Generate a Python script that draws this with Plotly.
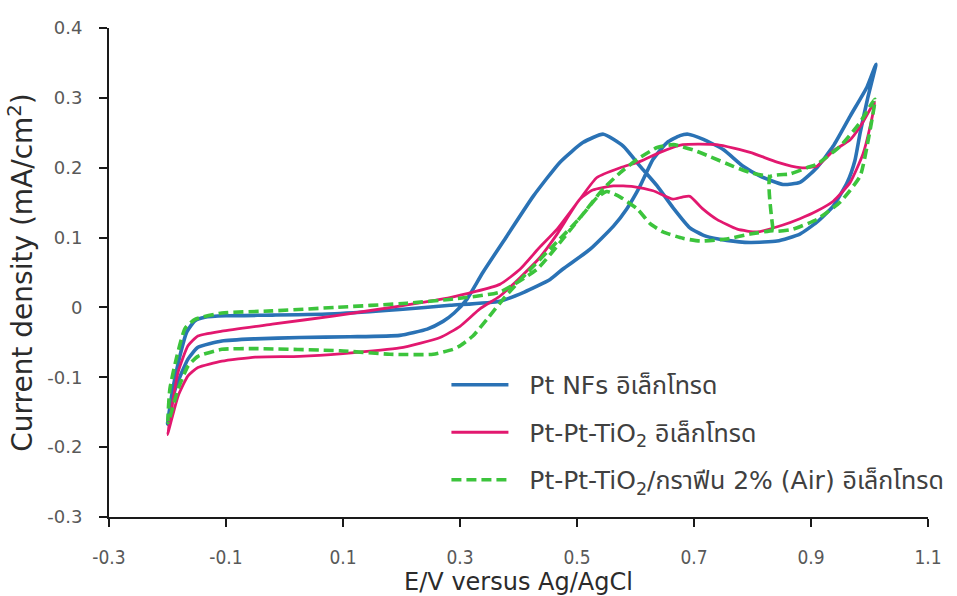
import plotly.graph_objects as go

# Cyclic voltammograms: potential E (V vs Ag/AgCl) and current density J (mA/cm2)
pt_nfs_E = [-0.200, -0.191, -0.179, -0.167, -0.153, -0.136, -0.100, -0.021, 0.086, 0.197,
            0.283, 0.368, 0.410, 0.454, 0.476, 0.522, 0.562, 0.585, 0.608, 0.630,
            0.654, 0.676, 0.690, 0.715, 0.750, 0.784, 0.813, 0.852, 0.881, 0.910,
            0.938, 0.967, 0.996, 1.011,
            0.997, 0.984, 0.975, 0.962, 0.938, 0.910, 0.881, 0.842, 0.796, 0.756,
            0.720, 0.693, 0.664, 0.637, 0.608, 0.579, 0.545, 0.510, 0.471, 0.425,
            0.380, 0.339, 0.312, 0.290, 0.271, 0.244, 0.197, 0.112, 0.026, -0.050,
            -0.107, -0.148, -0.165, -0.187, -0.200]
pt_nfs_J = [-0.167, -0.117, -0.070, -0.035, -0.019, -0.014, -0.012, -0.011, -0.009, -0.003,
            0.003, 0.009, 0.022, 0.040, 0.055, 0.083, 0.116, 0.141, 0.174, 0.212,
            0.236, 0.246, 0.248, 0.241, 0.226, 0.202, 0.188, 0.176, 0.179, 0.200,
            0.231, 0.274, 0.316, 0.348,
            0.300, 0.250, 0.210, 0.179, 0.145, 0.122, 0.105, 0.095, 0.093, 0.096,
            0.102, 0.114, 0.143, 0.174, 0.202, 0.231, 0.248, 0.236, 0.208, 0.159,
            0.102, 0.050, 0.012, -0.008, -0.020, -0.031, -0.040, -0.042, -0.043, -0.045,
            -0.048, -0.057, -0.074, -0.117, -0.167]

pt_tio2_E = [-0.200, -0.192, -0.182, -0.165, -0.148, -0.107, -0.021, 0.086, 0.197, 0.283,
             0.368, 0.403, 0.435, 0.466, 0.505, 0.534, 0.574, 0.608, 0.642, 0.681,
             0.739, 0.796, 0.842, 0.881, 0.910, 0.938, 0.967, 0.985, 1.009,
             1.000, 0.989, 0.967, 0.938, 0.910, 0.881, 0.852, 0.808, 0.774, 0.739,
             0.715, 0.693, 0.680, 0.664, 0.630, 0.596, 0.562, 0.527, 0.505, 0.466,
             0.435, 0.403, 0.368, 0.334, 0.300, 0.266, 0.197, 0.100, 0.026, -0.050,
             -0.107, -0.148, -0.165, -0.182, -0.200]
pt_tio2_J = [-0.182, -0.140, -0.093, -0.055, -0.041, -0.034, -0.024, -0.012, 0.002, 0.014,
             0.033, 0.055, 0.085, 0.112, 0.155, 0.186, 0.200, 0.209, 0.222, 0.233,
             0.233, 0.222, 0.208, 0.200, 0.202, 0.224, 0.240, 0.260, 0.294,
             0.255, 0.220, 0.179, 0.152, 0.138, 0.127, 0.118, 0.108, 0.112, 0.126,
             0.141, 0.159, 0.158, 0.155, 0.167, 0.173, 0.174, 0.168, 0.155, 0.105,
             0.070, 0.043, 0.016, -0.002, -0.027, -0.043, -0.058, -0.066, -0.070, -0.071,
             -0.077, -0.086, -0.098, -0.127, -0.182]

pt_tio2_g_E = [0.835, 0.830, 0.864, 0.893, 0.910, 0.950, 0.984, 1.009,
               0.999, 0.984, 0.950, 0.910, 0.869, 0.842, 0.835, 0.796, 0.756, 0.710,
               0.681, 0.647, 0.625, 0.603, 0.574, 0.551, 0.534, 0.505, 0.459, 0.415,
               0.380, 0.346, 0.322, 0.300, 0.288, 0.254, 0.180, 0.095, -0.050, -0.107,
               -0.148, -0.165, -0.182, -0.199,
               -0.196, -0.184, -0.170, -0.153, -0.107, -0.021, 0.086, 0.209, 0.288,
               0.368, 0.432, 0.476, 0.517, 0.545, 0.574, 0.603, 0.637, 0.665, 0.700,
               0.727, 0.767, 0.796, 0.830]
pt_tio2_g_J = [0.112, 0.187, 0.191, 0.200, 0.205, 0.231, 0.265, 0.298,
               0.245, 0.188, 0.151, 0.126, 0.112, 0.109, 0.110, 0.105, 0.098, 0.095,
               0.099, 0.108, 0.120, 0.141, 0.158, 0.166, 0.157, 0.128, 0.088, 0.050,
               0.018, -0.017, -0.041, -0.055, -0.060, -0.067, -0.067, -0.062, -0.059, -0.060,
               -0.070, -0.084, -0.117, -0.165,
               -0.117, -0.070, -0.030, -0.017, -0.008, -0.005, 0.000, 0.006, 0.012,
               0.022, 0.055, 0.098, 0.141, 0.170, 0.193, 0.212, 0.229, 0.233, 0.225,
               0.216, 0.202, 0.193, 0.187]

x_ticks = [-0.3, -0.1, 0.1, 0.3, 0.5, 0.7, 0.9, 1.1]
y_ticks = [-0.3, -0.2, -0.1, 0.0, 0.1, 0.2, 0.3, 0.4]
y_tick_text = ["-0.3", "-0.2", "-0.1", "0", "0.1", "0.2", "0.3", "0.4"]

names = [
    "\u00a0\u00a0Pt NFs อิเล็กโทรด",
    "\u00a0\u00a0Pt-Pt-TiO<sub>2</sub> อิเล็กโทรด",
    "\u00a0\u00a0Pt-Pt-TiO<sub>2</sub>/กราฟีน 2% (Air) อิเล็กโทรด",
]

FONT = "DejaVu Sans, Noto Sans Thai, Noto Sans, sans-serif"
NARROW = "DejaVu Sans Condensed, Liberation Sans Narrow, DejaVu Sans, sans-serif"

fig = go.Figure()
fig.add_trace(go.Scatter(x=pt_nfs_E, y=pt_nfs_J, mode="lines", name=names[0],
                         legendgroup="a",
                         line=dict(color="#2A72B5", width=3.6, shape="spline", smoothing=0.5)))
fig.add_trace(go.Scatter(x=pt_tio2_E, y=pt_tio2_J, mode="lines", name=names[1],
                         legendgroup="b",
                         line=dict(color="#E2186F", width=2.8, shape="spline", smoothing=0.5)))
fig.add_trace(go.Scatter(x=pt_tio2_g_E, y=pt_tio2_g_J, mode="lines", name=names[2],
                         legendgroup="c",
                         line=dict(color="#3CC43C", width=3.6, dash="10px,5px",
                                   shape="spline", smoothing=0.5)))

axis_common = dict(showgrid=False, zeroline=False, showline=True, linecolor="#1a1a1a",
                   linewidth=2, ticks="outside", ticklen=8, tickwidth=2,
                   tickcolor="#1a1a1a", automargin=False)

fig.update_xaxes(range=[-0.3, 1.1], tickvals=x_ticks,
                 ticktext=[f"{v:.1f}" for v in x_ticks],
                 tickfont=dict(family=NARROW, size=19, color="#595959"),
                 ticklabelstandoff=14,
                 title=dict(text="E/V versus Ag/AgCl", standoff=9,
                            font=dict(family=FONT, size=24, color="#2b2b2b")),
                 **axis_common)
fig.update_yaxes(range=[-0.3, 0.4], tickvals=y_ticks, ticktext=y_tick_text,
                 tickfont=dict(family=FONT, size=18, color="#595959"),
                 ticklabelstandoff=13,
                 title=dict(text="Current density (mA/cm<sup>2</sup>)", standoff=6,
                            font=dict(family=FONT, size=28, color="#2b2b2b")),
                 **axis_common)

fig.update_layout(
    width=957, height=596,
    margin=dict(l=109, r=29, t=28, b=79, autoexpand=False),
    paper_bgcolor="white", plot_bgcolor="white",
    showlegend=True,
    legend=dict(x=0.412, y=0.317, xanchor="left", yanchor="top",
                traceorder="grouped", tracegroupgap=12, itemwidth=57,
                bgcolor="rgba(0,0,0,0)",
                font=dict(family=FONT, size=25, color="#404040")),
)

fig.write_html("out.html")
